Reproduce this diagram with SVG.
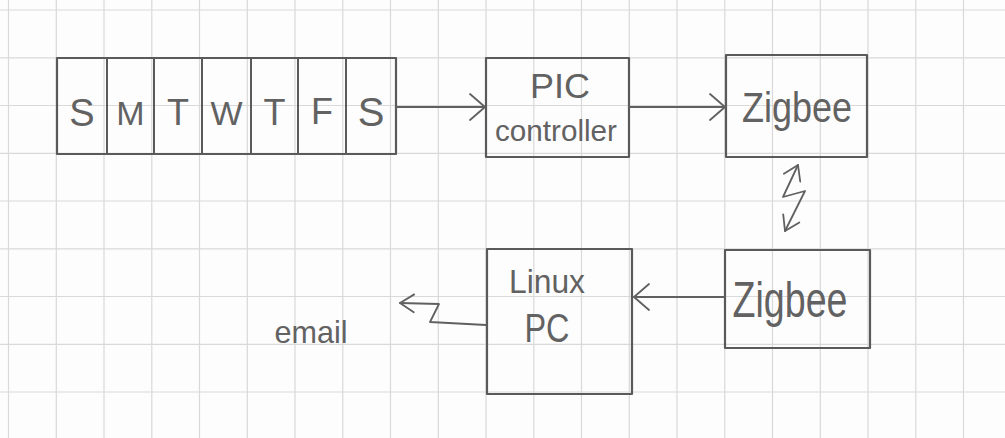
<svg xmlns="http://www.w3.org/2000/svg" width="1005" height="438" viewBox="0 0 1005 438">
<style>
.grid line{stroke:#d9d9d9;stroke-width:1.2}
.box{fill:none;stroke:#5a5a5a;stroke-width:2.2;stroke-linejoin:round}
.div{stroke:#5a5a5a;stroke-width:2}
.t{font-family:"Liberation Sans","DejaVu Sans",sans-serif;fill:#626262;text-anchor:middle}
.c{fill:none;stroke:#606060;stroke-width:1.8;stroke-linecap:round;stroke-linejoin:round}
</style>
<defs>
<marker id="chev" viewBox="-20 -16 22 32" refX="0" refY="0" markerWidth="22" markerHeight="32" markerUnits="userSpaceOnUse" orient="auto-start-reverse" overflow="visible">
<path d="M-15,-13 L0,0 L-15,13" fill="none" stroke="#606060" stroke-width="1.8" stroke-linecap="round" stroke-linejoin="round"/>
</marker>
<marker id="chevS" viewBox="-16 -12 18 24" refX="0" refY="0" markerWidth="18" markerHeight="24" markerUnits="userSpaceOnUse" orient="auto-start-reverse" overflow="visible">
<path d="M-14,-9 L0,0 L-14,9" fill="none" stroke="#606060" stroke-width="1.8" stroke-linecap="round" stroke-linejoin="round"/>
</marker>
</defs>
<rect width="1005" height="438" fill="#fdfdfd"/>
<g class="grid" id="grid">
<line x1="8.5" y1="0" x2="8.5" y2="438"/><line x1="56.3" y1="0" x2="56.3" y2="438"/><line x1="104" y1="0" x2="104" y2="438"/><line x1="151.8" y1="0" x2="151.8" y2="438"/><line x1="199.5" y1="0" x2="199.5" y2="438"/><line x1="247.3" y1="0" x2="247.3" y2="438"/><line x1="295" y1="0" x2="295" y2="438"/><line x1="342.8" y1="0" x2="342.8" y2="438"/><line x1="390.5" y1="0" x2="390.5" y2="438"/><line x1="438.3" y1="0" x2="438.3" y2="438"/><line x1="486" y1="0" x2="486" y2="438"/><line x1="533.8" y1="0" x2="533.8" y2="438"/><line x1="581.5" y1="0" x2="581.5" y2="438"/><line x1="629.3" y1="0" x2="629.3" y2="438"/><line x1="677" y1="0" x2="677" y2="438"/><line x1="724.8" y1="0" x2="724.8" y2="438"/><line x1="772.5" y1="0" x2="772.5" y2="438"/><line x1="820.3" y1="0" x2="820.3" y2="438"/><line x1="868" y1="0" x2="868" y2="438"/><line x1="915.8" y1="0" x2="915.8" y2="438"/><line x1="963.5" y1="0" x2="963.5" y2="438"/>
<line x1="0" y1="10" x2="1005" y2="10"/><line x1="0" y1="57.8" x2="1005" y2="57.8"/><line x1="0" y1="105.5" x2="1005" y2="105.5"/><line x1="0" y1="153.3" x2="1005" y2="153.3"/><line x1="0" y1="201" x2="1005" y2="201"/><line x1="0" y1="248.8" x2="1005" y2="248.8"/><line x1="0" y1="296.5" x2="1005" y2="296.5"/><line x1="0" y1="344.3" x2="1005" y2="344.3"/><line x1="0" y1="392" x2="1005" y2="392"/>
</g>
<g id="days">
<rect class="box" x="57" y="58" width="339" height="96"/>
<line class="div" x1="107" y1="58" x2="107" y2="154"/><line class="div" x1="154" y1="58" x2="154" y2="154"/><line class="div" x1="202" y1="58" x2="202" y2="154"/><line class="div" x1="251" y1="58" x2="251" y2="154"/><line class="div" x1="298" y1="58" x2="298" y2="154"/><line class="div" x1="346" y1="58" x2="346" y2="154"/>
<text class="t" x="82" y="126" font-size="38">S</text>
<text class="t" x="130.5" y="125" font-size="34">M</text>
<text class="t" x="178" y="125" font-size="36">T</text>
<text class="t" x="226.5" y="125" font-size="34">W</text>
<text class="t" x="274.5" y="125" font-size="36">T</text>
<text class="t" x="322" y="124" font-size="36">F</text>
<text class="t" x="371" y="126" font-size="40">S</text>
</g>
<g id="pic">
<rect class="box" x="486" y="58" width="143" height="99"/>
<text class="t" x="560" y="98" font-size="35" textLength="60" lengthAdjust="spacingAndGlyphs">PIC</text>
<text class="t" x="556" y="141" font-size="29" textLength="122" lengthAdjust="spacingAndGlyphs">controller</text>
</g>
<g id="zigbee1">
<rect class="box" x="726" y="55" width="141" height="102"/>
<text class="t" x="797" y="122" font-size="42" textLength="110" lengthAdjust="spacingAndGlyphs">Zigbee</text>
</g>
<g id="zigbee2">
<rect class="box" x="725" y="250" width="145" height="98"/>
<text class="t" x="790" y="317" font-size="50" textLength="115" lengthAdjust="spacingAndGlyphs">Zigbee</text>
</g>
<g id="linux">
<rect class="box" x="487" y="249" width="145" height="145"/>
<text class="t" x="547" y="293" font-size="34" textLength="76" lengthAdjust="spacingAndGlyphs">Linux</text>
<text class="t" x="547" y="342" font-size="40" textLength="45" lengthAdjust="spacingAndGlyphs">PC</text>
</g>
<g id="email">
<text class="t" x="311" y="343" font-size="32" textLength="73" lengthAdjust="spacingAndGlyphs">email</text>
</g>
<g id="connectors">
<path class="c" d="M396,107 L485,107" marker-end="url(#chev)"/>
<path class="c" d="M629,107 L725,107" marker-end="url(#chev)"/>
<path class="c" d="M798,165 L783,197 L805,191 L785,231" marker-start="url(#chevS)" marker-end="url(#chevS)"/>
<path class="c" d="M725,297 L634,297" marker-end="url(#chev)"/>
<path class="c" d="M486,325 L430,322 L439,304 L400,303" marker-end="url(#chevS)"/>
</g>
</svg>
